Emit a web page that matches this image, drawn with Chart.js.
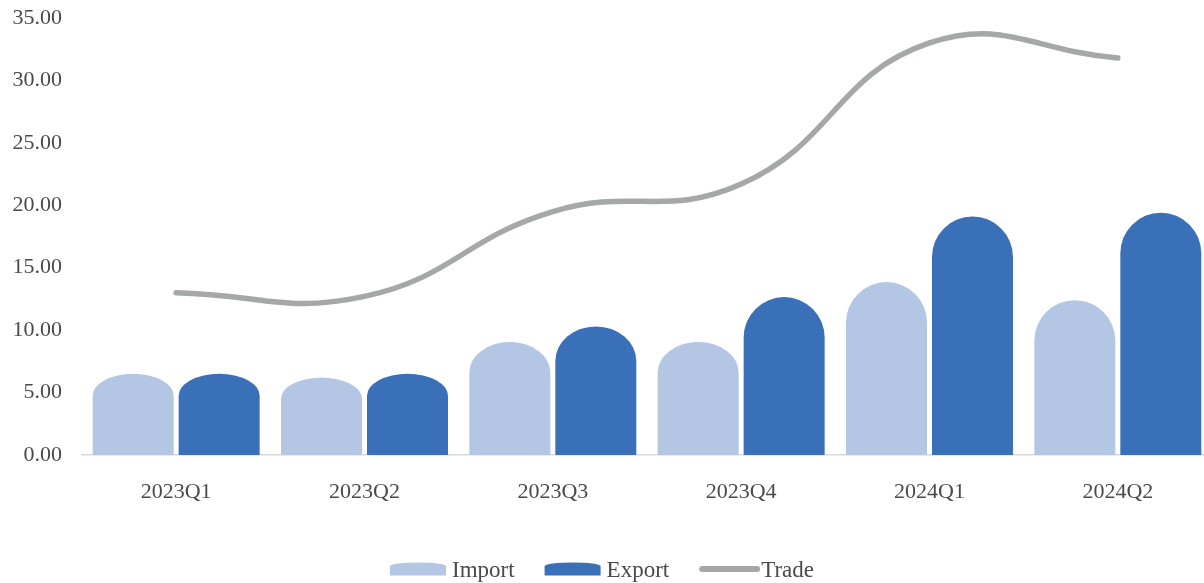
<!DOCTYPE html>
<html lang="en">
<head>
    <meta charset="UTF-8">
    <title>Trade by Quarter</title>
    <script src="https://cdn.jsdelivr.net/npm/chart.js"></script>
    <style>
        html, body {
            margin: 0;
            padding: 0;
            background: #ffffff;
            overflow: hidden;
        }
        .chart-box {
            width: 1214px;
            height: 583px;
        }
    </style>
</head>
<body>
    <div class="chart-box">
        <canvas id="tradeChart"></canvas>
    </div>

    <script>
        const quarters = ["2023Q1", "2023Q2", "2023Q3", "2023Q4", "2024Q1", "2024Q2"];
        const importValues = [6.5, 6.2, 9.05, 9.05, 13.85, 12.4];
        const exportValues = [6.5, 6.5, 10.3, 12.65, 19.1, 19.4];
        const tradeValues = [13.0, 12.7, 19.5, 21.7, 33.0, 31.8];
        const yMin = 0;
        const yMax = 35;
        const yStep = 5;

        const FONT = "'Liberation Serif', 'Times New Roman', serif";
        const TEXT_COLOR = "#4a4a4a";

        // bar outline with an elliptical dome on top
        function domePath(ctx, left, top, w, h) {
            let d = Math.min(w / 2, h * 0.27);
            ctx.beginPath();
            ctx.moveTo(left, top + h);
            ctx.lineTo(left, top + d);
            ctx.ellipse(left + w / 2, top + d, w / 2, d, 0, Math.PI, Math.PI * 2);
            ctx.lineTo(left + w, top + h);
            ctx.closePath();
        }

        const domeBars = {
            id: "domeBars",
            beforeDatasetDraw(chart, args) {
                let meta = args.meta;
                if (meta.type !== "bar") return;
                let ctx = chart.ctx;
                ctx.save();
                ctx.fillStyle = chart.data.datasets[args.index].backgroundColor;
                meta.data.forEach(bar => {
                    let p = bar.getProps(["x", "y", "base", "width"], true);
                    domePath(ctx, p.x - p.width / 2, p.y, p.width, p.base - p.y);
                    ctx.fill();
                });
                ctx.restore();
                return false;
            }
        };

        // legend along the bottom: dome swatches for bars, a thick stroke for the line
        const bottomLegend = {
            id: "bottomLegend",
            afterDraw(chart, args, opts) {
                let ctx = chart.ctx;
                ctx.save();
                ctx.font = "23px " + FONT;
                let items = chart.data.datasets.map(ds => ({
                    text: ds.label,
                    type: ds.type || "bar",
                    color: ds.type === "line" ? ds.borderColor : ds.backgroundColor,
                    textWidth: ctx.measureText(ds.label).width
                }));
                let swatchW = 56, textGap = 6, itemGap = 30;
                let total = items.reduce((s, it) => s + swatchW + textGap + it.textWidth, 0) + itemGap * (items.length - 1);
                let x = opts.center - total / 2;
                let y = opts.y;
                items.forEach(it => {
                    if (it.type === "line") {
                        ctx.strokeStyle = it.color;
                        ctx.lineWidth = 6;
                        ctx.lineCap = "round";
                        ctx.beginPath();
                        ctx.moveTo(x + 3, y);
                        ctx.lineTo(x + swatchW + 2, y);
                        ctx.stroke();
                    } else {
                        ctx.fillStyle = it.color;
                        domePath(ctx, x, y - 6.5, swatchW, 13);
                        ctx.fill();
                    }
                    x += swatchW + textGap;
                    ctx.fillStyle = TEXT_COLOR;
                    ctx.textBaseline = "alphabetic";
                    ctx.textAlign = "left";
                    ctx.fillText(it.text, x, y + 8);
                    x += it.textWidth + itemGap;
                });
                ctx.restore();
            }
        };

        new Chart(document.getElementById("tradeChart"), {
            type: "bar",
            data: {
                labels: quarters,
                datasets: [
                    {
                        label: "Import",
                        data: importValues,
                        backgroundColor: "#b3c6e3",
                        categoryPercentage: 0.913,
                        barPercentage: 0.942,
                        order: 2
                    },
                    {
                        label: "Export",
                        data: exportValues,
                        backgroundColor: "#3970b7",
                        categoryPercentage: 0.913,
                        barPercentage: 0.942,
                        order: 2
                    },
                    {
                        type: "line",
                        label: "Trade",
                        data: tradeValues,
                        borderColor: "#a5a8a8",
                        backgroundColor: "#a5a8a8",
                        borderWidth: 5.5,
                        borderCapStyle: "round",
                        tension: 0.45,
                        pointRadius: 0,
                        fill: false,
                        order: 1
                    }
                ]
            },
            options: {
                responsive: true,
                maintainAspectRatio: false,
                animation: false,
                layout: { padding: { top: 18, right: 2, left: 0, bottom: 0 } },
                plugins: {
                    legend: { display: false },
                    tooltip: { enabled: false },
                    bottomLegend: { center: 602, y: 569 }
                },
                scales: {
                    x: {
                        grid: { display: false },
                        border: { display: true, color: "#d9d9d9", width: 1.5 },
                        ticks: {
                            color: TEXT_COLOR,
                            font: { family: FONT, size: 22 },
                            padding: 16,
                            maxRotation: 0
                        },
                        afterFit(scale) { scale.height = 128; }
                    },
                    y: {
                        min: yMin,
                        max: yMax,
                        grid: { display: false, drawTicks: false },
                        border: { display: false },
                        ticks: {
                            stepSize: yStep,
                            padding: 20,
                            color: TEXT_COLOR,
                            font: { family: FONT, size: 22 },
                            callback: v => v.toFixed(2)
                        },
                        afterFit(scale) {
                            scale.width = 82;
                            // the tick padding is for the horizontal gap only
                            scale.paddingTop = 0;
                            scale.paddingBottom = 0;
                        }
                    }
                }
            },
            plugins: [domeBars, bottomLegend]
        });
    </script>
</body>
</html>
